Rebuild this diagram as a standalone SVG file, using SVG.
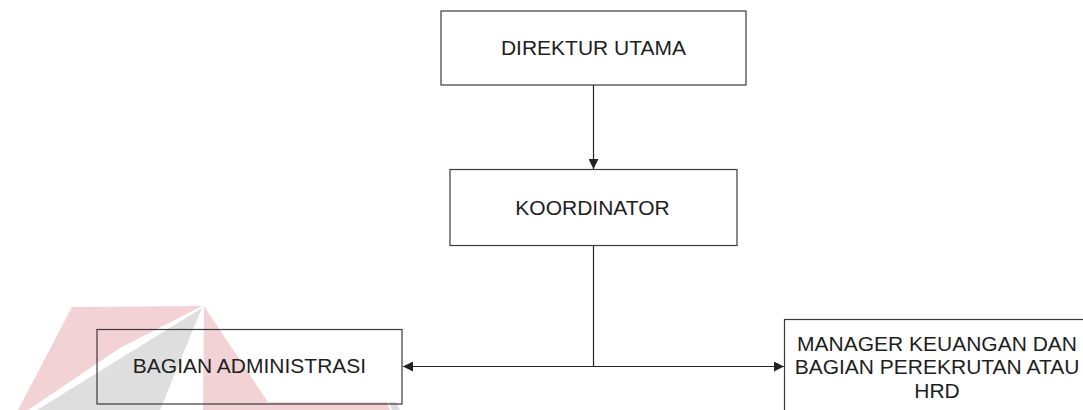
<svg xmlns="http://www.w3.org/2000/svg" width="1083" height="410" viewBox="0 0 1083 410">
<style>
.box{fill:none;stroke:#3a3a3a;stroke-width:1.2}
.lbl{font-family:"Liberation Sans",Arial,sans-serif;font-size:21px;fill:#1e1e1e;text-anchor:middle}
.edge{fill:none;stroke:#222;stroke-width:1.2}
.wp{fill:#f3d2d6}
.wg{fill:#dedede}
</style>
<defs>
<marker id="arr" viewBox="0 0 10 10" refX="10" refY="5" markerWidth="10.5" markerHeight="10" markerUnits="userSpaceOnUse" orient="auto-start-reverse">
<path d="M0,0 L10,5 L0,10 Z" fill="#222"/>
</marker>
</defs>
<rect width="1083" height="410" fill="#fff"/>
<g id="watermark">
<polygon class="wp" points="72,307 202,306 120,348 28,410 18,410"/>
<polygon class="wg" points="202,308 37,410 160,410"/>
<polygon class="wp" points="204,306 268,402 387,402 390,410 203,410"/>
<polygon class="wg" points="389,402 396,402 400,410 392,410"/>
</g>
<g id="connectors">
<line class="edge" x1="593.5" y1="85" x2="593.5" y2="169" marker-end="url(#arr)"/>
<line class="edge" x1="593.5" y1="245" x2="593.5" y2="366.5"/>
<line class="edge" x1="403" y1="366.5" x2="784" y2="366.5" marker-start="url(#arr)" marker-end="url(#arr)"/>
</g>
<g id="direktur">
<rect class="box" x="441" y="11" width="305" height="74"/>
<text class="lbl" x="593.5" y="55">DIREKTUR UTAMA</text>
</g>
<g id="koordinator">
<rect class="box" x="450" y="169.5" width="287" height="76"/>
<text class="lbl" x="592.5" y="214.5">KOORDINATOR</text>
</g>
<g id="administrasi">
<rect class="box" x="97" y="329.5" width="305" height="74.5"/>
<text class="lbl" x="249.5" y="373">BAGIAN ADMINISTRASI</text>
</g>
<g id="manager">
<rect class="box" x="784.5" y="319.5" width="305" height="100"/>
<text class="lbl" x="937" y="350.5">MANAGER KEUANGAN DAN</text>
<text class="lbl" x="937" y="374">BAGIAN PEREKRUTAN ATAU</text>
<text class="lbl" x="937" y="397.5">HRD</text>
</g>
</svg>
